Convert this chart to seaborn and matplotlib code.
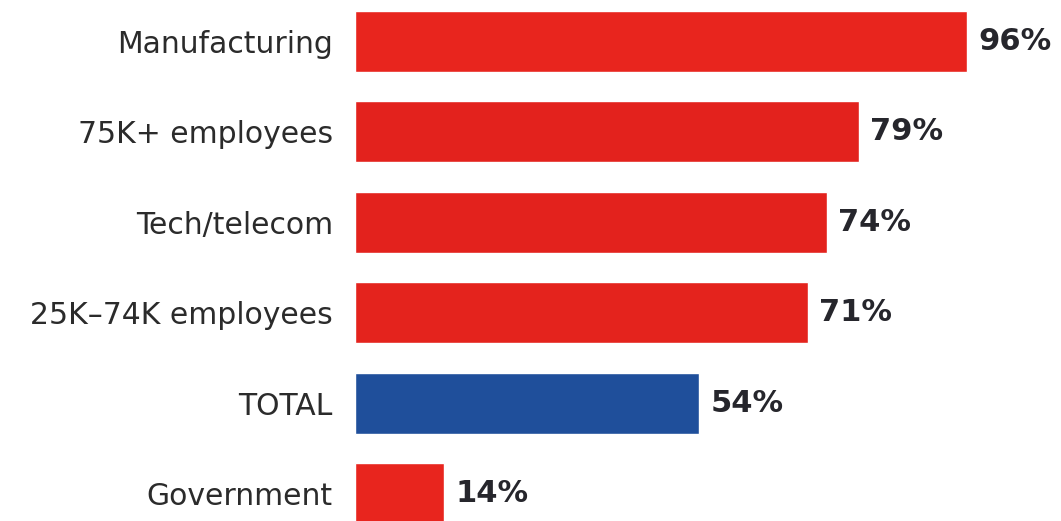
import matplotlib
matplotlib.use("Agg")
import matplotlib.pyplot as plt
import seaborn as sns
import pandas as pd

categories = ["Manufacturing", "75K+ employees", "Tech/telecom",
              "25K\u201374K employees", "TOTAL", "Government"]
values = [96, 79, 74, 71, 54, 14]
bar_colors = ["#e8251e", "#e3221d", "#e3221d", "#e4231d", "#1f4f9b", "#e8251e"]

sns.set_theme(style="white")
plt.rcParams["font.family"] = ["DejaVu Sans"]

df = pd.DataFrame({"category": categories, "value": values})

fig = plt.figure(figsize=(10.61, 5.21), dpi=100)
ax = fig.add_axes([355 / 1061, 0, 1 - 355 / 1061, 1])

sns.barplot(data=df, x="value", y="category", hue="category",
            palette=dict(zip(categories, bar_colors)), orient="h",
            width=0.675, legend=False, ax=ax, saturation=1)

ax.set_xlim(0, 110.7)
ax.set_ylim(5.304, -0.459)

for i, v in enumerate(values):
    ax.annotate(f"{v}%", xy=(v, i), xytext=(8, 0), textcoords="offset points",
                va="center", ha="left", fontsize=22, fontweight="bold",
                color="#26262c")

ax.set_xlabel("")
ax.set_ylabel("")
ax.set_xticks([])
ax.tick_params(axis="y", length=0, pad=16, labelsize=21.5, labelcolor="#2b2b2b")
for s in ax.spines.values():
    s.set_visible(False)

fig.savefig("out.png", dpi=100)
